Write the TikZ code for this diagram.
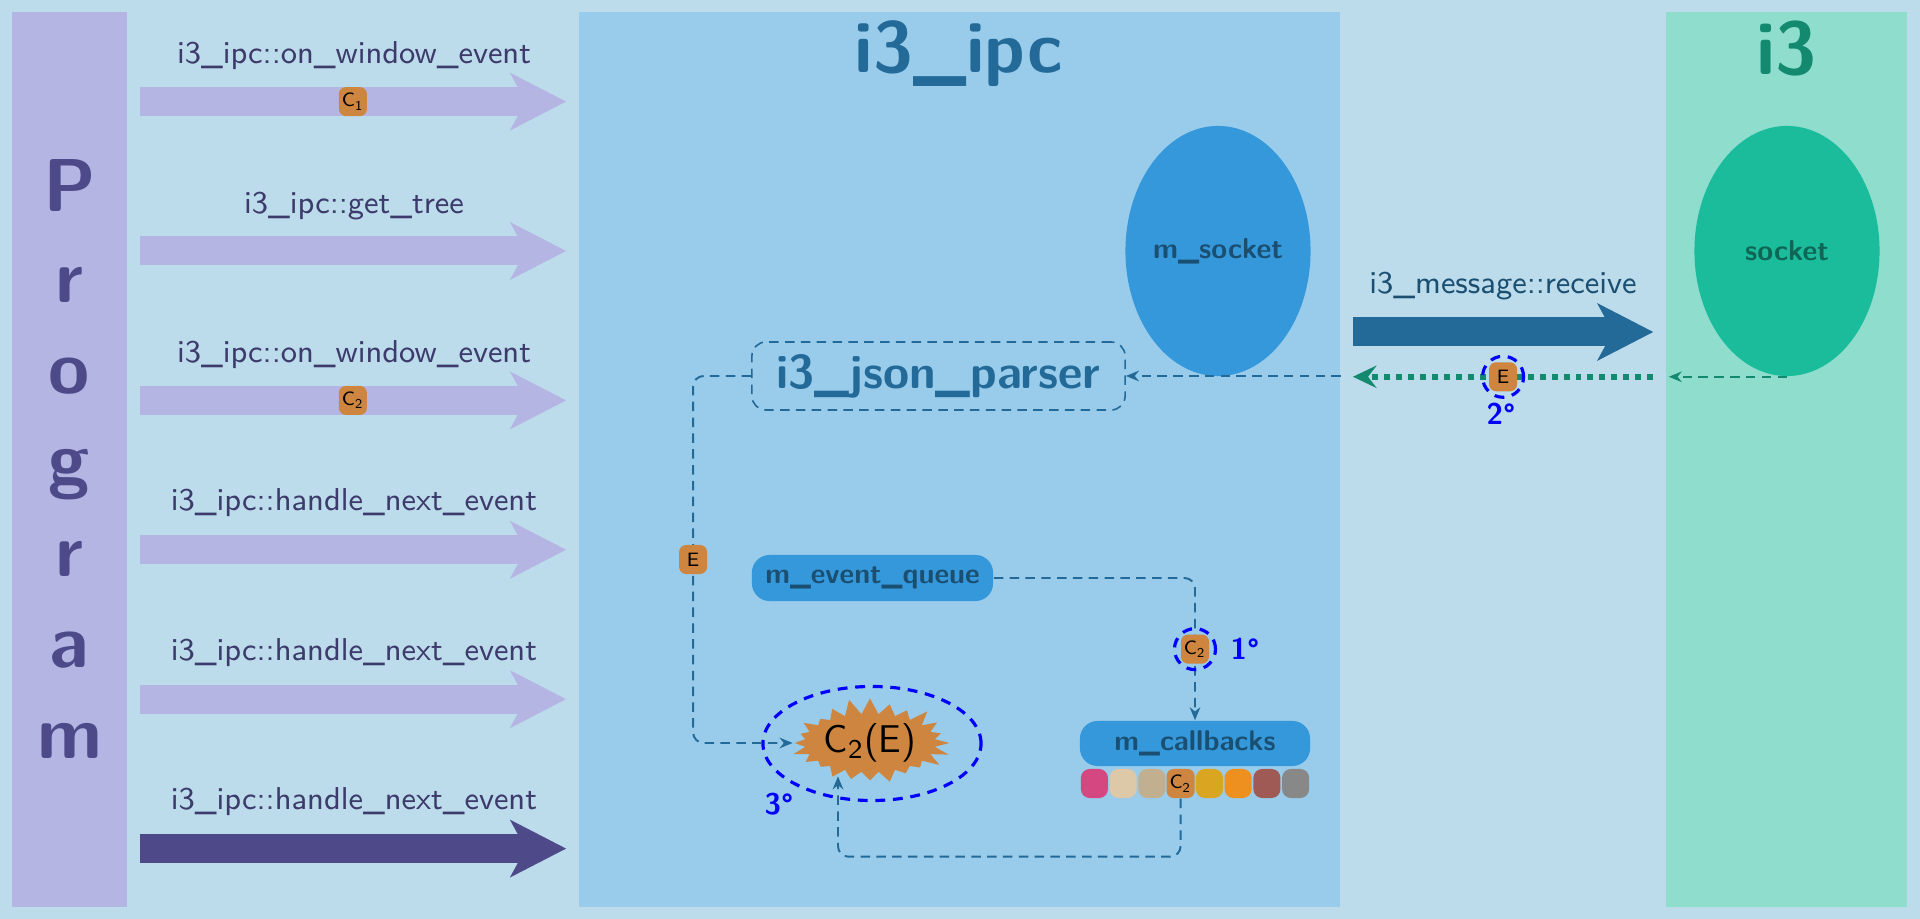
\documentclass[tikz,border=0pt]{standalone}
\usetikzlibrary{arrows.meta, shapes.geometric, shapes.symbols}

\definecolor{bgblue}{HTML}{BCDCEB}
\definecolor{progpurple}{HTML}{B5B5E3}
\definecolor{progdark}{HTML}{4E4A8A}
\definecolor{calltext}{HTML}{3D3B6C}
\definecolor{ipcblue}{HTML}{99CBEA}
\definecolor{ipcdark}{HTML}{236A99}
\definecolor{msockblue}{HTML}{3498DB}
\definecolor{msocktext}{HTML}{1B4F72}
\definecolor{ithreegreen}{HTML}{8EDDCD}
\definecolor{ithreedark}{HTML}{138A6F}
\definecolor{sockgreen}{HTML}{1ABC9C}
\definecolor{socktext}{HTML}{0E6655}
\definecolor{tokenorange}{HTML}{CD853F}
\definecolor{ordblue}{HTML}{0000FF}

\tikzset{
  panel/.style={inner sep=0pt, minimum height=8.95cm},
  bigtitle/.style={inner sep=0pt, font=\sffamily\bfseries\fontsize{20.6}{25}\selectfont},
  calllabel/.style={inner sep=0pt, text=calltext, font=\sffamily\fontsize{9}{11}\selectfont},
  callarrow/.style={draw=progpurple, line width=8.25pt,
    -{Stealth[length=16pt, width=16.5pt, inset=4.5pt, line width=0pt]},
    shorten <=0.12cm, shorten >=0.12cm},
  token/.style={fill=tokenorange, rounded corners=2pt, minimum width=0.28cm,
    minimum height=0.29cm, inner sep=0pt, text=black,
    font=\sffamily\fontsize{5.5}{6}\selectfont},
  slot/.style={rounded corners=2.5pt, minimum width=0.27cm, minimum height=0.29cm, inner sep=0pt},
  sockshape/.style={ellipse, minimum width=1.85cm, minimum height=2.5cm, inner sep=0pt,
    font=\sffamily\bfseries\fontsize{8.2}{10}\selectfont},
  member/.style={fill=msockblue, text=msocktext, rounded corners=5pt, inner sep=0pt,
    font=\sffamily\bfseries\fontsize{8.1}{10}\selectfont},
  flow/.style={draw=ipcdark, line width=0.55pt, dash pattern=on 2.7pt off 1.8pt,
    rounded corners=3pt, -{Stealth[length=3.7pt, width=3pt, inset=1.2pt]}},
  ring/.style={draw=ordblue, line width=0.9pt, dash pattern=on 2.8pt off 2.2pt, inner sep=0pt},
  ordlabel/.style={inner sep=0pt, text=ordblue, font=\sffamily\bfseries\fontsize{8.5}{10}\selectfont},
}

\begin{document}
\begin{tikzpicture}[x=0.01cm, y=-0.01cm]
  \fill[bgblue] (0,0) rectangle (1920,919);
  \useasboundingbox (0,0) rectangle (1920,919);

  % panels
  \node[panel, fill=progpurple, minimum width=1.15cm] (prog) at (69.5,459.5) {};
  \node[panel, fill=ipcblue, minimum width=7.61cm] (ipc) at (959.5,459.5) {};
  \node[panel, fill=ithreegreen, minimum width=2.41cm] (ithree) at (1786.5,459.5) {};

  \node[inner sep=0pt, align=center, text=progdark,
        font=\sffamily\bfseries\fontsize{21.3}{25.9}\selectfont] (progname) at (69.5,459) {P\\r\\o\\g\\r\\a\\m};
  \node[bigtitle, text=ipcdark] (ipctitle) at (959,54) {i3\_ipc};
  \node[bigtitle, text=ithreedark, font=\sffamily\bfseries\fontsize{21.3}{25}\selectfont] (ithreetitle) at (1787,49) {i3};

  % calls from the program
  \node[calllabel] (lbl1) at (354,56) {i3\_ipc::on\_window\_event};
  \draw[callarrow] (prog.east |- 0,101.6) -- (ipc.west |- 0,101.6) node[token, midway] (cone) {C\textsubscript{1}};
  \node[calllabel] (lbl2) at (354,206) {i3\_ipc::get\_tree};
  \draw[callarrow] (prog.east |- 0,251) -- (ipc.west |- 0,251);
  \node[calllabel] (lbl3) at (354,355) {i3\_ipc::on\_window\_event};
  \draw[callarrow] (prog.east |- 0,400.4) -- (ipc.west |- 0,400.4) node[token, midway] (ctwo) {C\textsubscript{2}};
  \node[calllabel] (lbl4) at (354,503) {i3\_ipc::handle\_next\_event};
  \draw[callarrow] (prog.east |- 0,549.8) -- (ipc.west |- 0,549.8);
  \node[calllabel] (lbl5) at (354,653) {i3\_ipc::handle\_next\_event};
  \draw[callarrow] (prog.east |- 0,699.2) -- (ipc.west |- 0,699.2);
  \node[calllabel] (lbl6) at (354,802) {i3\_ipc::handle\_next\_event};
  \draw[callarrow, draw=progdark] (prog.east |- 0,848.6) -- (ipc.west |- 0,848.6);

  % sockets
  \node[sockshape, fill=msockblue, text=msocktext] (msock) at (1218,251) {m\_socket};
  \node[sockshape, fill=sockgreen, text=socktext] (sock) at (1787,251) {socket};
  \node[calllabel, text=msocktext] (lblrecv) at (1503,286) {i3\_message::receive};
  \draw[callarrow, draw=ipcdark] (ipc.east |- 0,332) -- (ithree.west |- 0,332);
  \draw[flow, draw=ithreedark, shorten >=1pt] (sock.south) -- (ithree.west |- sock.south);
  \draw[draw=ithreedark, line width=1.7pt, dash pattern=on 1.7pt off 1.7pt,
        -{Stealth[length=6.8pt, width=6.5pt, inset=2.5pt, line width=0pt]},
        shorten <=0.12cm, shorten >=0.12cm]
    (ithree.west |- sock.south) -- (ipc.east |- sock.south) node[token, midway] (etwo) {E};
  \node[ring, circle, minimum size=0.41cm] (ringtwo) at (etwo) {};
  \node[ordlabel] at (1501,414) {2\textdegree};

  % inside i3_ipc
  \node[draw=ipcdark, line width=0.45pt, dash pattern=on 2.7pt off 1.8pt, rounded corners=4pt,
        minimum width=3.73cm, minimum height=0.68cm, inner sep=0pt, text=ipcdark,
        font=\sffamily\bfseries\fontsize{13.5}{16}\selectfont] (parser) at (938.5,376) {i3\_json\_parser};
  \draw[flow] (ipc.east |- parser.east) -- (parser.east);
  \node[member, minimum width=2.41cm, minimum height=0.46cm] (queue) at (872.5,578) {m\_event\_queue};
  \node[member, minimum width=2.3cm, minimum height=0.45cm] (cbs) at (1195,743.5) {m\_callbacks};

  \node[slot, fill={rgb,255:red,212;green,71;blue,128}] (sone) at (1094.4,783.5) {};
  \node[slot, fill={rgb,255:red,221;green,200;blue,168}] (stwo) at (1123.1,783.5) {};
  \node[slot, fill={rgb,255:red,194;green,175;blue,143}] (sthree) at (1151.9,783.5) {};
  \node[slot, token] (sfour) at (1180.6,783.5) {C\textsubscript{2}};
  \node[slot, fill={rgb,255:red,218;green,165;blue,32}] (sfive) at (1209.4,783.5) {};
  \node[slot, fill={rgb,255:red,238;green,144;blue,32}] (ssix) at (1238.1,783.5) {};
  \node[slot, fill={rgb,255:red,160;green,90;blue,85}] (sseven) at (1266.9,783.5) {};
  \node[slot, fill={rgb,255:red,136;green,136;blue,136}] (seight) at (1295.6,783.5) {};

  \pgfmathsetseed{11}
  \node[starburst, fill=tokenorange, starburst points=24, starburst point height=0.17cm,
        random starburst=30, minimum width=1.6cm, minimum height=0.92cm, inner sep=0pt,
        font=\sffamily\fontsize{11}{13}\selectfont] (burst) at (870,743) {C\textsubscript{2}(E)};
  \node[ring, ellipse, minimum width=2.18cm, minimum height=1.14cm] (ringthree) at (872,743.5) {};
  \node[ordlabel] at (779,804) {3\textdegree};

  \draw[flow] (parser.west) -- ++(-58,0) |- (burst.west) node[token, pos=0.25] (eone) {E};
  \draw[flow] (queue.east) -| (cbs.north) node[token, pos=0.75] (cq) {C\textsubscript{2}};
  \node[ring, circle, minimum size=0.41cm] (ringone) at (cq) {};
  \node[ordlabel] at (1245,649) {1\textdegree};
  \draw[flow] (sfour.south) -- ++(0,58) -| ([xshift=-0.32cm, yshift=0.05cm]burst.south);
\end{tikzpicture}
\end{document}
